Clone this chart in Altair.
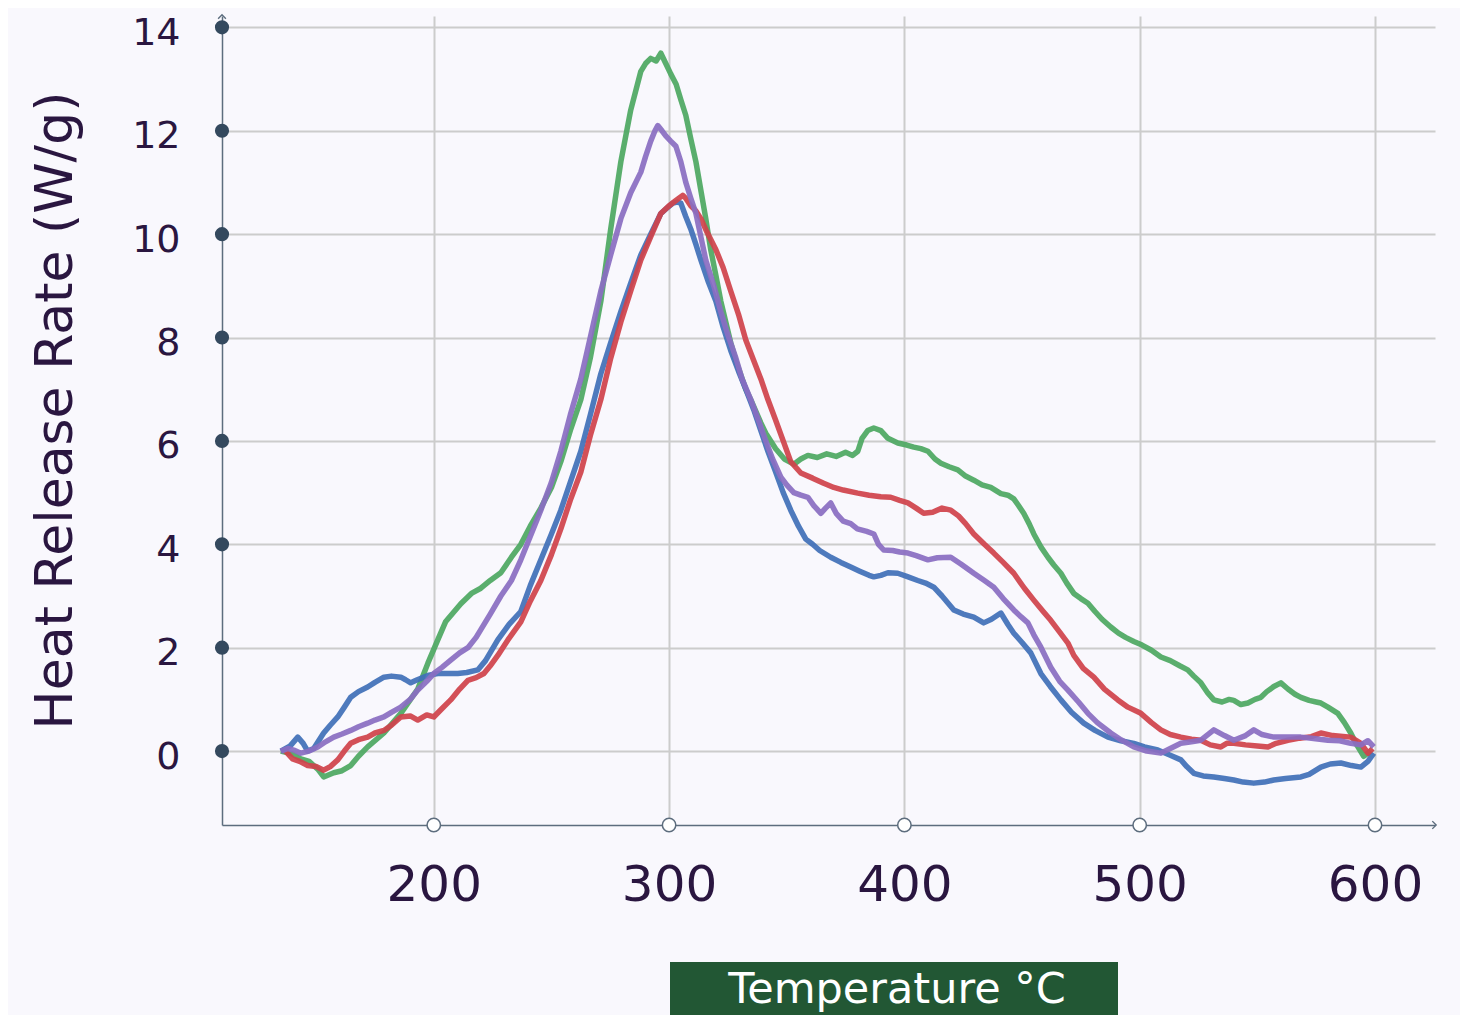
import altair as alt
import pandas as pd

# ---------------- data ----------------
green_t = [135, 139.5, 143.5, 147, 150.7, 153.2, 157.5, 161, 164.7, 168, 171.9, 178.8, 186, 193.2, 197.5,
           201.7, 205, 211.5, 216, 220, 224, 228.5, 233, 237, 241, 245.5, 250, 254, 258, 262.5, 266.5, 271,
           275.2, 279.5, 283.7, 288, 290, 292.2, 294.5, 296.5, 298.6, 300.7, 303, 305, 307.1, 309.2, 311.4,
           313.5, 315.6, 317.7, 319.9, 322, 326.2, 328.4, 332.6, 334.7, 339, 341.1, 345.3, 349, 353, 356,
           359, 363, 367, 371, 375, 378, 380.2, 382, 384.4, 387, 390, 393, 397.2, 401, 404, 407, 410, 413,
           415.5, 419, 422.7, 426, 429.5, 433, 436.7, 441, 444, 446.5, 448.5, 450.7, 453, 455, 458, 461,
           463.5, 466.5, 469, 472, 475, 478, 481, 484, 487.7, 491, 494, 497.5, 501, 505, 509, 513, 517,
           520.4, 523, 526, 529, 531.5, 535, 538, 540, 543, 546, 549, 551.5, 554, 557, 560, 563, 566, 568.5,
           572, 575, 577, 580, 584.2, 587, 589.7, 592.5, 595.2, 598.2]
green_v = [0.0, -0.05, -0.15, -0.2, -0.35, -0.5, -0.42, -0.38, -0.28, -0.1, 0.08, 0.35, 0.73, 1.2, 1.7,
           2.15, 2.5, 2.85, 3.05, 3.15, 3.3, 3.45, 3.75, 4.0, 4.35, 4.7, 5.1, 5.6, 6.2, 6.8, 7.6, 8.7,
           10.1, 11.4, 12.4, 13.15, 13.3, 13.4, 13.35, 13.5, 13.3, 13.1, 12.9, 12.6, 12.3, 11.85, 11.4,
           10.85, 10.3, 9.7, 9.2, 8.7, 7.9, 7.55, 7.0, 6.8, 6.35, 6.15, 5.85, 5.65, 5.55, 5.65,
           5.72, 5.68, 5.75, 5.7, 5.78, 5.72, 5.8, 6.05, 6.2, 6.25, 6.2, 6.05, 5.96, 5.92, 5.88, 5.85, 5.8, 5.65,
           5.57, 5.5, 5.44, 5.32, 5.24, 5.15, 5.1, 4.98, 4.95, 4.88, 4.75, 4.6, 4.4, 4.2, 3.95, 3.75,
           3.6, 3.44, 3.25, 3.05, 2.95, 2.86, 2.7, 2.55, 2.4, 2.28, 2.2, 2.12, 2.05, 1.95, 1.82, 1.75, 1.65,
           1.57, 1.45, 1.32, 1.12, 0.99, 0.95, 1.0, 0.98, 0.9, 0.93, 1.0, 1.04, 1.15, 1.25, 1.32, 1.2, 1.1, 1.04,
           0.98, 0.95, 0.93, 0.85, 0.73, 0.55, 0.35, 0.1, -0.1, 0.0]

blue_t = [135, 139, 142.2, 144.5, 146.4, 149, 153.2, 156, 159.2, 162, 164.7, 168, 171.9, 175, 178.8, 182,
          186, 188, 190.2, 193, 195.8, 198, 201.7, 206, 210.2, 214, 218.7, 222, 227.2, 232, 237, 241,
          245.5, 250, 254, 258, 262.5, 266.5, 271, 275.2, 279.5, 283.7, 288, 292.2, 296.5, 299, 301.6,
          303.5, 305, 307, 309.2, 311.4, 313.5, 316.5, 319.9, 323, 326.2, 329.5, 332.6, 336, 339, 342,
          345.3, 348.5, 351.7, 355, 358.1, 361, 364, 368.7, 373, 377.2, 381, 385, 387, 390, 393, 397.2,
          401, 405.7, 409, 412.5, 416, 421, 425, 429.5, 433.7, 437, 441, 444, 446.5, 450, 453.7, 458,
          462, 466.5, 471, 476.2, 481, 486.5, 492, 497.5, 502, 507.7, 513, 517.5, 520, 523, 527, 531.5,
          536, 540, 544, 548.5, 553, 557, 562, 568.5, 572, 577, 581, 585.5, 590, 594, 597, 599.5]
blue_v = [0.0, 0.1, 0.27, 0.15, 0.0, 0.05, 0.35, 0.5, 0.66, 0.85, 1.04, 1.15, 1.24, 1.33, 1.43, 1.45,
          1.43, 1.38, 1.32, 1.38, 1.43, 1.47, 1.5, 1.5, 1.5, 1.52, 1.57, 1.75, 2.15, 2.45, 2.7, 3.2,
          3.7, 4.2, 4.66, 5.2, 5.8, 6.5, 7.3, 7.9, 8.5, 9.05, 9.6, 10.0, 10.4, 10.5, 10.6,
          10.62, 10.6, 10.35, 10.1, 9.8, 9.5, 9.1, 8.7, 8.2, 7.75, 7.35, 7.0, 6.6, 6.2, 5.8,
          5.4, 5.0, 4.66, 4.35, 4.1, 4.0, 3.88, 3.75, 3.65, 3.56, 3.48, 3.4, 3.37, 3.4, 3.45, 3.44,
          3.38, 3.3, 3.25, 3.17, 3.0, 2.73, 2.65, 2.59, 2.48, 2.55, 2.67, 2.45, 2.28, 2.1, 1.9, 1.5,
          1.25, 0.99, 0.75, 0.54, 0.4, 0.27, 0.2, 0.15, 0.08, 0.02, -0.08, -0.17, -0.3, -0.43, -0.48, -0.5,
          -0.53, -0.56, -0.6, -0.62, -0.6, -0.56, -0.53, -0.5, -0.45, -0.31, -0.25, -0.23, -0.28, -0.31, -0.2, -0.04]

red_t = [137, 140, 143, 146.4, 150, 153.2, 156, 159.2, 162, 164.7, 168, 171.9, 175, 178.8, 182, 186, 190,
         193.2, 197, 200, 203, 207.2, 211, 214.5, 218, 221.3, 224, 227.2, 231.5, 237, 241, 245.5, 250,
         254, 258, 262.5, 266.5, 271, 275.2, 279.5, 283.7, 288, 292.2, 296.5, 300, 302.9, 305.8, 307,
         309.2, 311.4, 313.5, 316, 319.9, 323, 326.2, 329.5, 332.6, 336, 339, 342, 345.3, 348.5, 351.7,
         356, 361, 365.7, 370, 374, 380.2, 385, 390, 394.2, 398, 401.5, 405, 408.2, 412, 416, 419.7, 423,
         426, 429.5, 434, 438, 442, 446.5, 451, 455, 459, 462.2, 466, 469.5, 472, 476, 480.5, 485, 490.7,
         495, 500.5, 505, 509, 513, 517.5, 522, 526, 530, 534.5, 537, 540, 545, 550, 554.5, 558, 563,
         568, 573, 577, 582, 589.7, 594, 597, 599]
red_v = [0.0, -0.15, -0.2, -0.28, -0.3, -0.37, -0.3, -0.17, 0.0, 0.15, 0.22, 0.27, 0.35, 0.4, 0.5, 0.66, 0.68,
         0.6, 0.7, 0.66, 0.8, 0.99, 1.2, 1.37, 1.42, 1.5, 1.65, 1.85, 2.15, 2.5, 2.9, 3.3, 3.8,
         4.3, 4.85, 5.4, 6.1, 6.8, 7.6, 8.3, 8.9, 9.5, 9.95, 10.4, 10.55, 10.65, 10.75, 10.7,
         10.55, 10.45, 10.3, 10.05, 9.7, 9.35, 8.9, 8.45, 7.95, 7.55, 7.2, 6.8, 6.4, 6.0, 5.6,
         5.38, 5.28, 5.18, 5.1, 5.05, 4.99, 4.95, 4.92, 4.91, 4.85, 4.8, 4.7, 4.6, 4.62, 4.7, 4.66, 4.55,
         4.4, 4.2, 4.0, 3.83, 3.65, 3.44, 3.15, 2.92, 2.7, 2.53, 2.3, 2.09, 1.85, 1.6, 1.43, 1.2, 0.99,
         0.85, 0.73, 0.55, 0.41, 0.32, 0.27, 0.23, 0.21, 0.12, 0.08, 0.15, 0.15, 0.12, 0.1, 0.08, 0.15, 0.21,
         0.25, 0.28, 0.35, 0.3, 0.27, 0.15, -0.04, 0.05]

purple_t = [135, 138, 140.5, 143.5, 147, 150.7, 154, 157.5, 161, 164.7, 168, 171.9, 175, 178.8, 182, 186,
            190, 193.2, 197, 200, 203.5, 207.2, 211, 214.5, 218, 220, 224, 228.5, 233, 237, 241, 245.5,
            250, 254, 258, 262.5, 266.5, 271, 275.2, 279.5, 283.7, 288, 290, 292.2, 294, 295.2, 297,
            298.6, 300.7, 302.9, 305, 307.1, 309.2, 311.4, 313.5, 315.6, 319, 322, 325, 328.4, 331,
            334.7, 338, 341.1, 344, 347.5, 350, 353, 356, 359, 361.5, 364.5, 366.5, 368.7, 371, 374,
            377.2, 380, 384, 387, 389, 391.2, 395, 398, 401.5, 405, 410, 414, 419.7, 424, 429.5, 434,
            438, 442, 446.5, 449.5, 452.5, 455, 458, 462.2, 466, 469.5, 474, 478, 482, 487.7, 492,
            497.5, 503, 509, 513, 517.5, 522, 526, 531.5, 536, 540, 545, 548.5, 552, 557, 563, 568.5,
            573, 580, 585, 589.7, 594, 597, 599.5]
purple_v = [0.0, 0.05, 0.02, -0.04, 0.0, 0.08, 0.18, 0.27, 0.33, 0.4, 0.47, 0.54, 0.6, 0.66, 0.75, 0.85,
            1.0, 1.18, 1.35, 1.5, 1.62, 1.76, 1.9, 2.0, 2.2, 2.35, 2.65, 3.0, 3.3, 3.7, 4.15, 4.66,
            5.2, 5.8, 6.5, 7.2, 8.0, 8.9, 9.6, 10.3, 10.8, 11.2, 11.5, 11.8, 12.0, 12.1, 12.0,
            11.9, 11.8, 11.7, 11.4, 11.0, 10.7, 10.4, 9.95, 9.5, 9.0, 8.5, 8.05, 7.6, 7.2,
            6.8, 6.4, 6.0, 5.65, 5.3, 5.15, 5.0, 4.95, 4.91, 4.75, 4.6, 4.7, 4.8, 4.6, 4.45,
            4.4, 4.3, 4.25, 4.2, 4.0, 3.89, 3.88, 3.85, 3.83, 3.78, 3.7, 3.74, 3.75, 3.62, 3.44, 3.3,
            3.17, 2.95, 2.73, 2.6, 2.48, 2.25, 2.01, 1.62, 1.35, 1.18, 0.95, 0.73, 0.55, 0.35, 0.22,
            0.08, 0.0, -0.04, 0.05, 0.15, 0.18, 0.21, 0.41, 0.3, 0.21, 0.3, 0.41, 0.32, 0.27, 0.27, 0.27,
            0.25, 0.21, 0.2, 0.15, 0.12, 0.2, 0.08]

x_ticks = [200, 300, 400, 500, 600]
y_ticks = [0, 2, 4, 6, 8, 10, 12, 14]
X_MIN, X_MAX = 110, 625.5
Y_MIN, Y_MAX = -1.43, 14.22

# series in drawing order (last drawn on top)
series = [
    ("green", green_t, green_v, "#4ea862"),
    ("blue", blue_t, blue_v, "#4170b8"),
    ("red", red_t, red_v, "#d0434b"),
    ("purple", purple_t, purple_v, "#8a6ec2"),
]

FONT = "DejaVu Sans"
TXT = "#2a1640"
AXC = "#5d6d7e"

xscale = alt.Scale(domain=[X_MIN, X_MAX], nice=False, zero=False)
yscale = alt.Scale(domain=[Y_MIN, Y_MAX], nice=False, zero=False)

xaxis = alt.Axis(values=x_ticks, grid=True, gridColor="#cccccc", gridWidth=2,
                 domain=True, domainColor=AXC, domainWidth=1.5, ticks=False, tickSize=0,
                 labelFont=FONT, labelFontSize=50, labelColor=TXT, labelPadding=35,
                 title=None)
yaxis = alt.Axis(values=y_ticks, grid=True, gridColor="#cccccc", gridWidth=2,
                 domain=True, domainColor=AXC, domainWidth=1.5, ticks=False, tickSize=0,
                 labelFont=FONT, labelFontSize=38, labelColor=TXT, labelPadding=42,
                 labelOffset=6, labelBound=False, labelFlush=False,
                 title="Heat Release Rate (W/g)", titleFont=FONT, titleFontSize=52,
                 titleFontWeight="normal", titleColor=TXT, titleAngle=270,
                 titleBaseline="alphabetic", titleAlign="center", titleX=-151, titleY=394)

layers = []
first = True
for name, t, v, col in series:
    df = pd.DataFrame({"t": t, "v": v})
    if first:
        enc_x = alt.X("t:Q", scale=xscale, axis=xaxis)
        enc_y = alt.Y("v:Q", scale=yscale, axis=yaxis)
        first = False
    else:
        enc_x = alt.X("t:Q", scale=xscale)
        enc_y = alt.Y("v:Q", scale=yscale)
    layers.append(
        alt.Chart(df).mark_line(color=col, strokeWidth=5.5, opacity=0.93,
                                strokeJoin="round", interpolate="linear")
        .encode(x=enc_x, y=enc_y)
    )

# axis tick markers
ytick_df = pd.DataFrame({"t": [X_MIN] * len(y_ticks), "v": y_ticks})
xtick_df = pd.DataFrame({"t": x_ticks, "v": [Y_MIN] * len(x_ticks)})
ytick_pts = alt.Chart(ytick_df).mark_point(filled=True, size=200, color="#34495e", opacity=1).encode(
    x=alt.X("t:Q", scale=xscale), y=alt.Y("v:Q", scale=yscale))
xtick_pts = alt.Chart(xtick_df).mark_point(filled=True, fill="white", stroke=AXC, strokeWidth=1.5,
                                           size=180, opacity=1).encode(
    x=alt.X("t:Q", scale=xscale), y=alt.Y("v:Q", scale=yscale))

# arrow heads at ends of axes
rarrow = alt.Chart(pd.DataFrame({"t": [X_MAX], "v": [Y_MIN]})).mark_point(
    shape="M-0.7,-1L0.3,0L-0.7,1", filled=False, stroke=AXC, strokeWidth=1.4, size=60, opacity=1
).encode(x=alt.X("t:Q", scale=xscale), y=alt.Y("v:Q", scale=yscale))
tarrow = alt.Chart(pd.DataFrame({"t": [X_MIN], "v": [Y_MAX]})).mark_point(
    shape="M-1,0.7L0,-0.3L1,0.7", filled=False, stroke=AXC, strokeWidth=1.4, size=60, opacity=1
).encode(x=alt.X("t:Q", scale=xscale), y=alt.Y("v:Q", scale=yscale))

# x-axis title box
title_box = alt.Chart(pd.DataFrame({"a": [0]})).mark_rect(color="#225734").encode(
    x=alt.value(448), x2=alt.value(896), y=alt.value(946), y2=alt.value(1010))
title_txt = alt.Chart(pd.DataFrame({"a": [0]})).mark_text(
    text="Temperature °C", font=FONT, fontSize=43, color="white", align="center",
    baseline="alphabetic").encode(x=alt.value(675), y=alt.value(987))

chart = alt.layer(*layers, ytick_pts, xtick_pts, rarrow, tarrow, title_box, title_txt).properties(
    width=1213, height=809,
    padding={"left": 214, "top": 8, "right": 25, "bottom": 190},
    autosize=alt.AutoSizeParams(type="none"),
    background="#f9f8fd",
).configure_view(stroke=None)

chart.save("out.html", embed_options={"renderer": "svg", "actions": False})
